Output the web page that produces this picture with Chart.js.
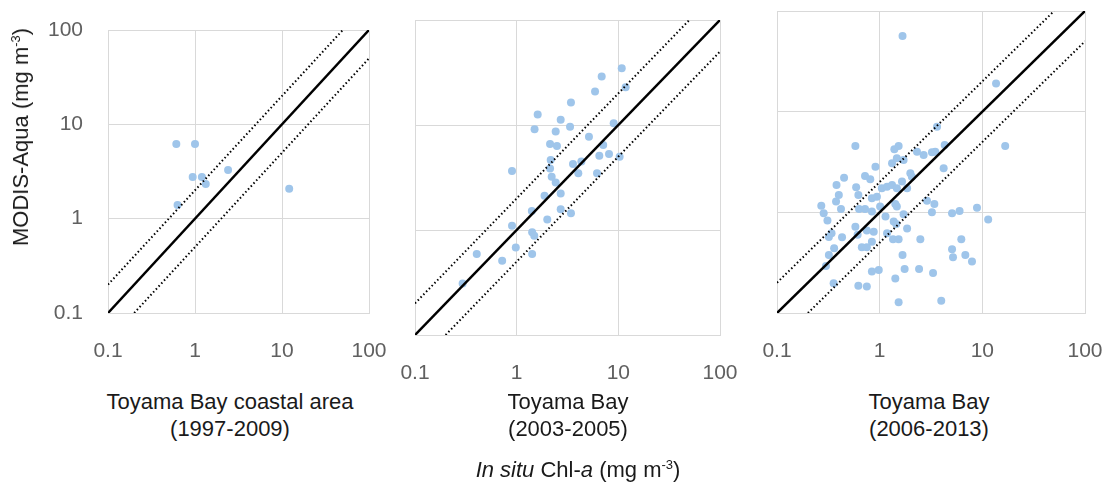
<!DOCTYPE html>
<html>
<head>
<meta charset="utf-8">
<script src="https://cdn.jsdelivr.net/npm/chart.js@4.4.1/dist/chart.umd.min.js"></script>
<style>
  body { margin: 0; background: #fff; width: 1115px; height: 487px; position: relative; overflow: hidden; font-family: "Liberation Sans", Arial, sans-serif; color: #1a1a1a; }
  canvas { position: absolute; top: 0; }
  .lbl { position: absolute; text-align: center; font-size: 22px; line-height: 27px; white-space: nowrap; transform: translateX(-50%); }
  .ytitle { position: absolute; left: 21px; top: 137px; font-size: 22px; white-space: nowrap; transform: translate(-50%, -50%) rotate(-90deg); }
  sup { font-size: 13px; line-height: 0; vertical-align: 8px; }
</style>
</head>
<body>
<canvas id="c1" width="400" height="380" style="left:0px"></canvas>
<canvas id="c2" width="360" height="400" style="left:385px"></canvas>
<canvas id="c3" width="375" height="380" style="left:740px"></canvas>

<div class="ytitle">MODIS-Aqua (mg m<sup>-3</sup>)</div>
<div class="lbl" style="left:230px; top:388px">Toyama Bay coastal area<br>(1997-2009)</div>
<div class="lbl" style="left:568px; top:388px">Toyama Bay<br>(2003-2005)</div>
<div class="lbl" style="left:929px; top:388px">Toyama Bay<br>(2006-2013)</div>
<div class="lbl" style="left:578px; top:456px"><i>In situ</i> Chl-<i>a</i> (mg m<sup>-3</sup>)</div>

<script>
const tickVals = [0.1, 1, 10, 100];

// 1:1 line and factor-of-2 lines
const lineX = [0.1, 100];
const lineY = [0.1, 100];
const upperX = [0.1, 50];
const upperY = [0.2, 100];
const lowerX = [0.2, 100];
const lowerY = [0.1, 50];

// Toyama Bay coastal area (1997-2009)
const p1x = [0.61, 1.0, 0.94, 1.2, 1.33, 2.4, 0.63, 12.1];
const p1y = [6.2, 6.2, 2.77, 2.77, 2.33, 3.28, 1.40, 2.08];

// Toyama Bay (2003-2005)
const p2x = [10.8, 6.86, 11.8, 5.9, 3.42, 1.61, 2.71, 1.50, 2.42, 3.35, 9.0, 5.14, 2.13, 2.49, 7.1, 6.5, 8.1, 10.3, 2.16, 2.13,
             3.58, 4.33, 4.04, 6.17, 0.90, 2.21, 2.42, 2.71, 1.88, 2.71, 3.42, 1.41, 2.0, 0.90, 1.42, 1.49, 0.98, 0.405, 0.72, 1.42, 0.294];
const p2y = [34.7, 28.9, 22.9, 20.8, 16.4, 12.6, 11.2, 9.1, 8.65, 9.6, 10.4, 7.74, 6.6, 6.3, 6.45, 5.1, 5.3, 4.99, 4.64, 3.86,
             4.25, 4.48, 3.47, 3.47, 3.65, 3.22, 2.83, 2.23, 2.12, 1.58, 1.44, 1.52, 1.26, 1.10, 0.95, 0.88, 0.68, 0.59, 0.51, 0.59, 0.31];

// Toyama Bay (2006-2013)
const p3x = [1.67, 13.6, 3.62, 0.58, 16.7, 4.3, 1.53, 1.39, 2.31, 2.68, 3.23, 3.48, 1.47, 1.71, 1.32, 0.91, 4.2, 1.99, 0.72, 0.81,
             0.45, 0.38, 0.59, 1.05, 1.18, 1.32, 1.47, 1.65, 1.85, 2.06, 0.62, 0.40, 0.376, 0.84, 0.94, 2.89, 3.41, 0.27, 0.42, 0.63,
             0.72, 0.84, 1.01, 1.47, 1.42, 3.23, 5.07, 6.0, 8.87, 11.4, 0.285, 0.31, 1.14, 1.71, 1.37, 1.45, 0.58, 0.75, 0.875, 1.85,
             0.34, 0.32, 0.43, 0.61, 1.18, 1.35, 1.53, 2.49, 6.24, 0.84, 0.67, 0.75, 0.36, 5.07, 0.32, 1.67, 5.18, 6.83, 7.93, 0.30,
             0.84, 0.98, 1.75, 2.42, 3.31, 1.42, 0.356, 0.62, 0.75, 1.53, 3.98];
const p3y = [56.5, 19.1, 7.1, 4.56, 4.56, 4.67, 4.56, 4.23, 4.0, 3.71, 3.95, 4.0, 3.44, 3.31, 3.07, 2.84, 2.74, 2.44, 2.30, 2.13,
             2.21, 1.87, 1.77, 1.73, 1.8, 1.87, 1.73, 2.02, 1.73, 2.26, 1.49, 1.49, 1.28, 1.38, 1.43, 1.30, 1.21, 1.16, 1.08, 1.08,
             1.08, 1.02, 1.14, 1.14, 1.21, 1.0, 0.98, 1.03, 1.11, 0.85, 0.98, 0.83, 0.91, 0.955, 0.81, 0.766, 0.72, 0.66, 0.64, 0.69,
             0.62, 0.57, 0.565, 0.60, 0.62, 0.54, 0.54, 0.54, 0.54, 0.51, 0.45, 0.45, 0.44, 0.43, 0.377, 0.377, 0.357, 0.377, 0.324, 0.293,
             0.258, 0.267, 0.273, 0.273, 0.25, 0.22, 0.197, 0.187, 0.183, 0.128, 0.132];

function pts(xs, ys) {
  return xs.map((x, i) => ({x: x, y: ys[i]}));
}

function refLine(xs, ys, dashed) {
  return {
    type: 'line',
    data: pts(xs, ys),
    borderColor: '#000',
    borderWidth: dashed ? 2 : 2.5,
    borderDash: dashed ? [1.5, 2.5] : [],
    pointRadius: 0,
    order: 0
  };
}

function makePanel(id, xs, ys, pad, yWidth, xHeight, showY) {
  const config = {
    type: 'scatter',
    data: {
      datasets: [
        refLine(lineX, lineY, false),
        refLine(upperX, upperY, true),
        refLine(lowerX, lowerY, true),
        {
          data: pts(xs, ys),
          backgroundColor: '#9fc5ea',
          borderWidth: 0,
          pointRadius: 4,
          order: 1
        }
      ]
    },
    options: {
      responsive: false,
      animation: false,
      layout: {padding: pad},
      plugins: {legend: {display: false}, tooltip: {enabled: false}},
      scales: {
        x: {
          type: 'logarithmic',
          min: 0.1, max: 100,
          afterBuildTicks: s => { s.ticks = tickVals.map(v => ({value: v})); },
          afterFit: s => { s.height = xHeight; s.paddingLeft = 0; s.paddingRight = 0; },
          grid: {color: '#d9d9d9', drawTicks: false},
          border: {color: '#d9d9d9'},
          ticks: {
            padding: 26, autoSkip: false, maxRotation: 0,
            color: '#606060',
            font: {family: 'Liberation Sans', size: 21},
            callback: v => String(v)
          }
        },
        y: {
          type: 'logarithmic',
          min: 0.1, max: 100,
          afterBuildTicks: s => { s.ticks = tickVals.map(v => ({value: v})); },
          afterFit: s => { s.width = yWidth; s.paddingTop = 0; s.paddingBottom = 0; },
          grid: {color: '#d9d9d9', drawTicks: false},
          border: {color: '#d9d9d9'},
          ticks: {
            display: showY,
            padding: 25,
            color: '#606060',
            font: {family: 'Liberation Sans', size: 21},
            callback: v => String(v)
          }
        }
      }
    }
  };
  return new Chart(document.getElementById(id).getContext('2d'), config);
}

window.onload = function() {
  makePanel('c1', p1x, p1y, {left: 0, right: 31, top: 30, bottom: 0}, 108, 67, true);
  makePanel('c2', p2x, p2y, {left: 30, right: 25, top: 20, bottom: 0}, 0, 65, false);
  makePanel('c3', p3x, p3y, {left: 37, right: 30, top: 11, bottom: 0}, 0, 67, false);
};
</script>
</body>
</html>
